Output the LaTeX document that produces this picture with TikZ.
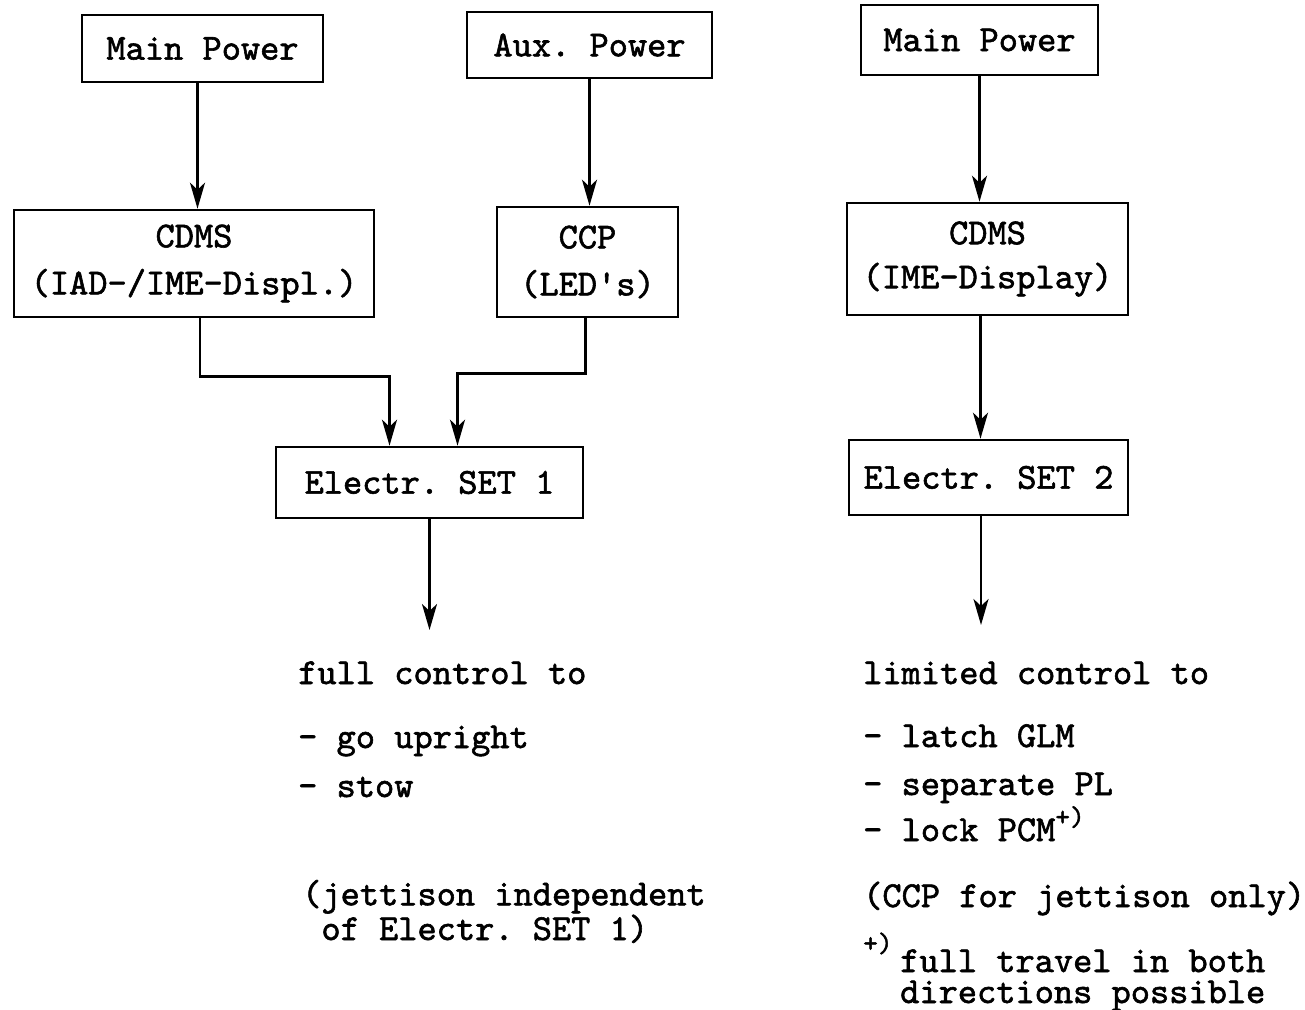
\documentclass[tikz,border=0pt]{standalone}
\usepackage{fontspec}
\setmonofont{lmmono10-regular.otf}[FakeBold=1.6]
\usetikzlibrary{arrows.meta}

\newcommand{\plusmark}{\raisebox{0.42em}{\fontsize{28}{30}\selectfont +)}}

\tikzset{
  unit/.style={draw, line width=2.6pt, inner sep=0pt, align=center,
    font=\ttfamily\fontsize{36.6}{47}\selectfont},
  txt/.style={anchor=base west, inner sep=0pt, align=left,
    font=\ttfamily\fontsize{36.6}{31}\selectfont},
  feed/.style={line width=2.6pt, -{Stealth[length=26pt,width=15pt,inset=7pt]}}
}

\begin{document}
\begin{tikzpicture}[x=1pt,y=-1pt]
\useasboundingbox (0,0) rectangle (1305,1009);

% set 1 chain
\node[unit, minimum width=241pt, minimum height=67pt] (mainL) at (202.5,48.5) {Main Power};
\node[unit, minimum width=245pt, minimum height=66pt] (aux) at (589.5,45) {Aux.\ Power};
\node[unit, minimum width=360pt, minimum height=107pt] (cdmsL) at (194,263.5) {CDMS\\(IAD-/IME-Displ.)};
\node[unit, minimum width=181pt, minimum height=110pt] (ccp) at (587.5,262) {CCP\\(LED's)};
\node[unit, minimum width=307pt, minimum height=71pt] (set1) at (429.5,482.5) {Electr.\ SET 1};
\coordinate (out1) at (429.5,630);

% set 2 chain
\node[unit, minimum width=237pt, minimum height=70pt] (mainR) at (979.5,40) {\raisebox{-6pt}{Main Power}};
\node[unit, minimum width=281pt, minimum height=112pt] (cdmsR) at (987.5,259) {\raisebox{-5pt}{CDMS}\\[2pt](IME-Display)};
\node[unit, minimum width=279pt, minimum height=75pt] (set2) at (988.5,477.5) {Electr.\ SET 2};
\coordinate (out2) at (981,625);

\draw[feed] ([xshift=-5pt]mainL.south) -- ([xshift=-5pt]mainL.south |- cdmsL.north);
\draw[feed] (aux.south) -- (aux.south |- ccp.north);
\draw[feed] ([xshift=6pt]cdmsL.south) -- ++(0,58) -| ([xshift=-40pt]set1.north);
\draw[feed] ([xshift=-2pt]ccp.south) -- ++(0,55) -| ([xshift=28pt]set1.north);
\draw[feed] (set1.south) -- (out1);

\draw[feed] (mainR.south) -- (mainR.south |- cdmsR.north);
\draw[feed] ([xshift=-7pt]cdmsR.south) -- ([xshift=-7pt]cdmsR.south |- set2.north);
\draw[feed] (set2.south -| out2) -- (out2);

% what each set can do
\node[txt] (full) at (298,684) {full control to};
\node[txt] (up) at (298,748) {- go upright};
\node[txt] (stow) at (298,797) {- stow};
\node[txt] (jett) at (302,940) {(jettison independent\\\ of Electr.\ SET 1)};

\node[txt] (limited) at (863,684) {limited control to};
\node[txt] (latch) at (863,747) {- latch GLM};
\node[txt] (sep) at (863,795) {- separate PL};
\node[txt] (lock) at (863,841) {- lock PCM\plusmark};
\node[txt] (jett3) at (863,907) {(CCP for jettison only)};
\node[txt, font=\ttfamily\fontsize{28}{30}\selectfont] (mark) at (863,952) {+)};
\node[txt] (travel) at (900,1003) {full travel in both\\directions possible};
\end{tikzpicture}
\end{document}
